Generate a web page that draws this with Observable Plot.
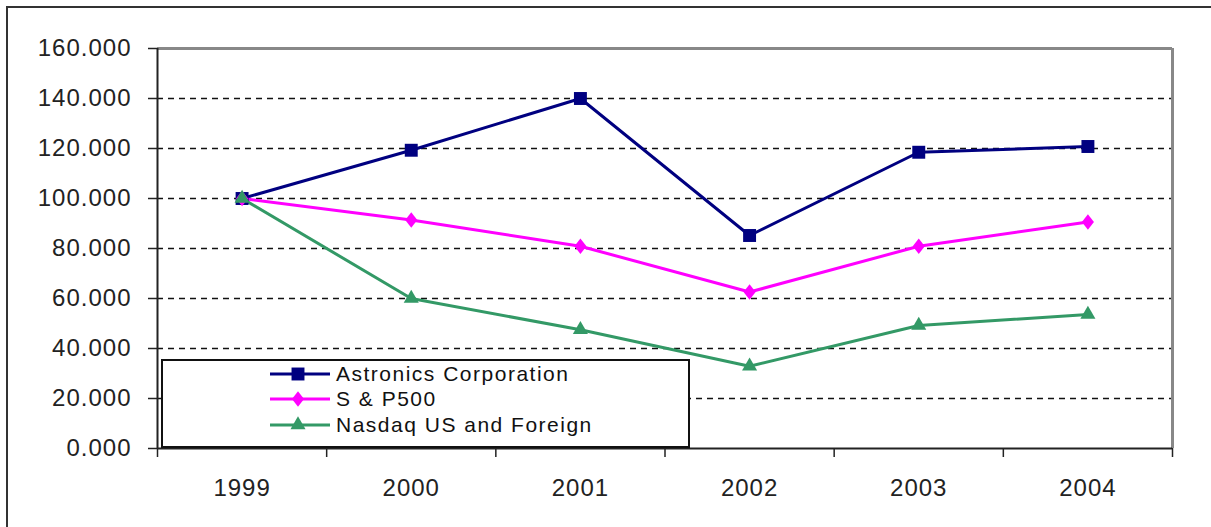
<!DOCTYPE html>
<html>
<head>
<meta charset="utf-8">
<script src="https://cdn.jsdelivr.net/npm/d3@7"></script>
<script src="https://cdn.jsdelivr.net/npm/@observablehq/plot@0.6"></script>
<style>
  html, body { margin: 0; padding: 0; background: #fff; overflow: hidden; width: 1211px; height: 527px; }
  #wrap { position: relative; width: 1211px; height: 527px; }
  #frame { position: absolute; left: 6px; top: 6px; width: 1300px; height: 700px; border: 2px solid #333; box-sizing: border-box; pointer-events: none; }
  #chart { position: absolute; left: 0; top: 0; }
  #chart svg text { letter-spacing: 1px; }
  #legend { position: absolute; left: 161px; top: 359px; width: 529px; height: 89px; box-sizing: border-box;
            border: 2px solid #111; background: #fff; font-family: "Liberation Sans", Arial, sans-serif; font-size: 21px;
            letter-spacing: 1.5px; color: #111; }
  .row { display: flex; align-items: center; height: 25.5px; }
  .row svg { margin-left: 105px; margin-right: 6px; flex: none; }
</style>
</head>
<body>
<div id="wrap">
  <div id="chart"></div>
  <div id="legend"></div>
  <div id="frame"></div>
</div>
<script>
const years = [1999, 2000, 2001, 2002, 2003, 2004];
const astronics = [100, 119.3, 140, 85.2, 118.5, 120.8];
const sp500 = [100, 91.4, 80.9, 62.6, 80.9, 90.6];
const nasdaq = [100, 60, 47.5, 32.9, 49.2, 53.6];
const seriesNames = ["Astronics Corporation", "S & P500", "Nasdaq US and Foreign"];
const seriesColors = ["#000080", "#FF00FF", "#339966"];
const seriesSymbols = ["square", "diamond", "triangle"];
const yTicks = [0, 20, 40, 60, 80, 100, 120, 140, 160];

const seriesValues = [astronics, sp500, nasdaq];
const rows = seriesNames.flatMap((name, s) => years.map((year, i) => ({series: name, year, value: seriesValues[s][i]})));

// custom, slightly squatter diamond
const diamondSym = {
  draw(ctx, size) {
    const a = Math.sqrt(size / 2.6), b = 1.3 * a;
    ctx.moveTo(0, -b); ctx.lineTo(a, 0); ctx.lineTo(0, b); ctx.lineTo(-a, 0); ctx.closePath();
  }
};
const symObj = {square: d3.symbolSquare, diamond: diamondSym, triangle: d3.symbolTriangle};
const symR = {square: 7.3, diamond: 5.5, triangle: 5.6};

const boundaries = years.map(y => y - 0.5).concat([years[years.length - 1] + 0.5]);
const xDomain = [boundaries[0], boundaries[boundaries.length - 1]];
const gridTicks = yTicks.filter(t => t > yTicks[0] && t < yTicks[yTicks.length - 1]);

const marks = [
  Plot.ruleY(gridTicks, {stroke: "#111", strokeDasharray: "6,5", strokeWidth: 1.6}),
  Plot.ruleY([yTicks[yTicks.length - 1]], {stroke: "#888", strokeWidth: 3}),
  Plot.ruleX([xDomain[1]], {stroke: "#888", strokeWidth: 3}),
  Plot.ruleX([xDomain[0]], {stroke: "#222", strokeWidth: 2}),
  Plot.ruleY([yTicks[0]], {stroke: "#222", strokeWidth: 2}),
  Plot.axisY({ticks: yTicks, tickFormat: d3.format(".3f"), tickSize: 9, tickPadding: 17, stroke: "#222", strokeWidth: 1.5, fill: "#222", label: null}),
  Plot.axisX({ticks: boundaries, tickFormat: () => "", tickSize: 9, stroke: "#222", strokeWidth: 1.5, label: null}),
  Plot.axisX({ticks: years, tickFormat: d => String(d), tickSize: 0, tickPadding: 30, fill: "#222", label: null})
];
seriesNames.forEach((name, s) => {
  const data = rows.filter(d => d.series === name);
  marks.push(Plot.line(data, {x: "year", y: "value", stroke: seriesColors[s], strokeWidth: 3}));
});
seriesNames.forEach((name, s) => {
  const data = rows.filter(d => d.series === name);
  marks.push(Plot.dot(data, {x: "year", y: "value", fill: seriesColors[s], symbol: symObj[seriesSymbols[s]], r: symR[seriesSymbols[s]], stroke: "none"}));
});

const chart = Plot.plot({
  width: 1211,
  height: 527,
  marginLeft: 157,
  marginRight: 39,
  marginTop: 48,
  marginBottom: 79,
  x: {type: "linear", domain: xDomain},
  y: {domain: [yTicks[0], yTicks[yTicks.length - 1]]},
  style: {fontFamily: "'Liberation Sans', Arial, sans-serif", fontSize: "24px", color: "#222", background: "transparent"},
  marks
});
document.getElementById("chart").appendChild(chart);

// legend
const legend = d3.select("#legend");
seriesNames.forEach((name, s) => {
  const row = legend.append("div").attr("class", "row");
  const svg = row.append("svg").attr("width", 62).attr("height", 24);
  svg.append("line").attr("x1", 2).attr("x2", 62).attr("y1", 12).attr("y2", 12)
    .attr("stroke", seriesColors[s]).attr("stroke-width", 3);
  const r = symR[seriesSymbols[s]];
  svg.append("path").attr("transform", "translate(30,12)")
    .attr("d", d3.symbol(symObj[seriesSymbols[s]], Math.PI * r * r)())
    .attr("fill", seriesColors[s]);
  row.append("span").text(name);
});
</script>
</body>
</html>
